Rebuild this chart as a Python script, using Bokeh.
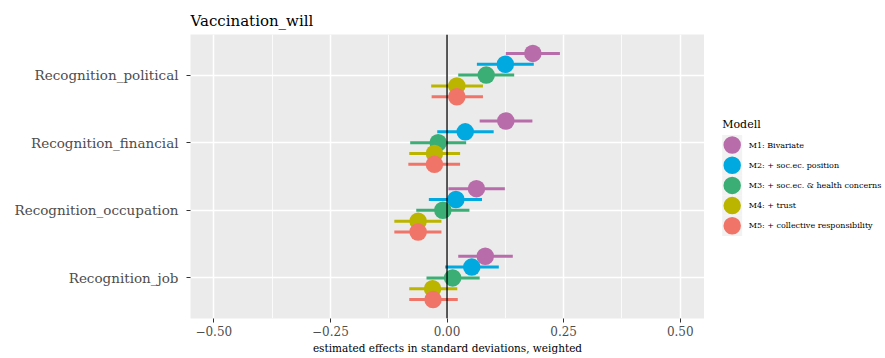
from bokeh.core.properties import value
from bokeh.embed import file_html
from bokeh.layouts import row
from bokeh.models import ColumnDataSource, FixedTicker, Range1d, Span
from bokeh.plotting import figure
from bokeh.resources import INLINE

FONT = "DejaVu Serif"

# Predictors, top to bottom
categories = [
    "Recognition_political",
    "Recognition_financial",
    "Recognition_occupation",
    "Recognition_job",
]

model_labels = [
    "M1: Bivariate",
    "M2: + soc.ec. position",
    "M3: + soc.ec. & health concerns",
    "M4: + trust",
    "M5: + collective responsibility",
]
model_colors = ["#B86CAA", "#00A9E0", "#3AAE74", "#BBB500", "#F07468"]

# Estimates and confidence bounds per model (order follows `categories`)
est_m1 = [0.184, 0.126, 0.063, 0.082]
lo_m1 = [0.126, 0.070, 0.003, 0.024]
hi_m1 = [0.242, 0.183, 0.124, 0.141]

est_m2 = [0.125, 0.039, 0.019, 0.053]
lo_m2 = [0.064, -0.021, -0.039, -0.004]
hi_m2 = [0.186, 0.100, 0.075, 0.111]

est_m3 = [0.084, -0.019, -0.009, 0.012]
lo_m3 = [0.024, -0.079, -0.066, -0.044]
hi_m3 = [0.144, 0.041, 0.048, 0.070]

est_m4 = [0.021, -0.027, -0.062, -0.031]
lo_m4 = [-0.034, -0.081, -0.113, -0.081]
hi_m4 = [0.077, 0.028, -0.012, 0.022]

est_m5 = [0.021, -0.027, -0.062, -0.030]
lo_m5 = [-0.033, -0.083, -0.113, -0.081]
hi_m5 = [0.077, 0.028, -0.012, 0.023]

x_ticks = [-0.5, -0.25, 0.0, 0.25, 0.5]
x_tick_labels = ["\u22120.50", "\u22120.25", "0.00", "0.25", "0.50"]

estimates = [est_m1, est_m2, est_m3, est_m4, est_m5]
lowers = [lo_m1, lo_m2, lo_m3, lo_m4, lo_m5]
uppers = [hi_m1, hi_m2, hi_m3, hi_m4, hi_m5]

n_cat = len(categories)
n_mod = len(model_labels)
cat_y = [n_cat - i for i in range(n_cat)]  # first category on top
dodge_width = 0.8
offsets = [((n_mod - 1) / 2 - k) * dodge_width / n_mod for k in range(n_mod)]

PANEL_BG = "#EBEBEB"
TEXT_GREY = "#4D4D4D"

TOP, BOTTOM, FRAME_H = 34, 40, 284

p = figure(
    frame_width=514,
    frame_height=FRAME_H,
    min_border_left=190,
    min_border_right=0,
    min_border_top=TOP,
    min_border_bottom=BOTTOM,
    x_range=Range1d(-0.55, 0.552),
    y_range=Range1d(0.4, 4.6),
    output_backend="svg",
    toolbar_location=None,
    background_fill_color=PANEL_BG,
    border_fill_color="white",
)
p.outline_line_color = None

# error bars first, points on top
sources = []
for k in range(n_mod):
    ys = [c + offsets[k] for c in cat_y]
    src = ColumnDataSource(dict(y=ys, est=estimates[k], lo=lowers[k], hi=uppers[k]))
    sources.append(src)
    p.segment(x0="lo", y0="y", x1="hi", y1="y", source=src,
              line_color=model_colors[k], line_width=3, line_cap="butt")
for k in range(n_mod):
    p.scatter(x="est", y="y", source=sources[k], size=17.5,
              fill_color=model_colors[k], line_color=None, marker="circle")

p.add_layout(Span(location=0, dimension="height", line_color="black", line_width=1.3))

# x axis
xa = p.xaxis[0]
xa.ticker = FixedTicker(ticks=x_ticks, minor_ticks=[-0.375, -0.125, 0.125, 0.375])
xa.major_label_overrides = {t: lab for t, lab in zip(x_ticks, x_tick_labels)}
xa.axis_label = "estimated effects in standard deviations, weighted"
xa.axis_label_text_font = FONT
xa.axis_label_text_font_size = "10.5px"
xa.axis_label_text_font_style = "normal"
xa.axis_label_text_color = "black"
xa.axis_label_standoff = 3
xa.major_label_text_font = FONT
xa.major_label_text_font_size = "12px"
xa.major_label_text_color = TEXT_GREY
xa.major_label_standoff = 3
xa.axis_line_color = None
xa.major_tick_line_color = "#333333"
xa.major_tick_out = 4
xa.major_tick_in = 0
xa.minor_tick_line_color = None

# y axis
ya = p.yaxis[0]
ya.ticker = FixedTicker(ticks=cat_y)
ya.major_label_overrides = {y: c for y, c in zip(cat_y, categories)}
ya.major_label_text_font = FONT
ya.major_label_text_font_size = "13.5px"
ya.major_label_text_color = TEXT_GREY
ya.major_label_standoff = 8
ya.axis_line_color = None
ya.major_tick_line_color = "#333333"
ya.major_tick_out = 4
ya.major_tick_in = 0
ya.minor_tick_line_color = None

# grid
p.xgrid.grid_line_color = "white"
p.xgrid.grid_line_width = 1.5
p.xgrid.minor_grid_line_color = "white"
p.xgrid.minor_grid_line_width = 0.8
p.ygrid.grid_line_color = "white"
p.ygrid.grid_line_width = 1.5

p.title.text = "Vaccination_will"
p.title.text_font = FONT
p.title.text_font_size = "15px"
p.title.text_font_style = "normal"
p.title.text_color = "black"
p.title.standoff = 9

# legend panel; its frame shares the main frame's vertical extent,
# so the y range is expressed in page pixels from the top
leg = figure(
    frame_width=181,
    frame_height=FRAME_H,
    x_range=Range1d(0, 181),
    y_range=Range1d(TOP + FRAME_H, TOP),
    x_axis_location=None,
    y_axis_location=None,
    output_backend="svg",
    toolbar_location=None,
    min_border_left=0,
    min_border_right=0,
    min_border_top=TOP,
    min_border_bottom=BOTTOM,
    background_fill_color="white",
    border_fill_color="white",
)
leg.outline_line_color = None
leg.grid.visible = False

key_x = 27.7
key_y0 = 144.5
key_step = 20.2
key_ys = [key_y0 + i * key_step for i in range(n_mod)]
leg_src = ColumnDataSource(dict(
    x=[key_x] * n_mod, y=key_ys, color=model_colors, label=model_labels,
    tx=[key_x + 16.5] * n_mod,
))
leg.rect(x="x", y="y", width=20, height=key_step, width_units="screen",
         height_units="screen", source=leg_src, fill_color="#F2F2F2", line_color=None)
leg.scatter(x="x", y="y", size=17.5, fill_color="color", line_color=None, source=leg_src)
leg.text(x="tx", y="y", text="label", source=leg_src, text_font=value(FONT),
         text_font_size="8px", text_baseline="middle", text_color="black")
leg.text(x=[key_x - 10], y=[123.5], text=["Modell"], text_font=value(FONT),
         text_font_size="11px", text_baseline="middle", text_color="black")

layout = row(p, leg, spacing=0)

with open("out.html", "w") as f:
    f.write(file_html(layout, INLINE))
